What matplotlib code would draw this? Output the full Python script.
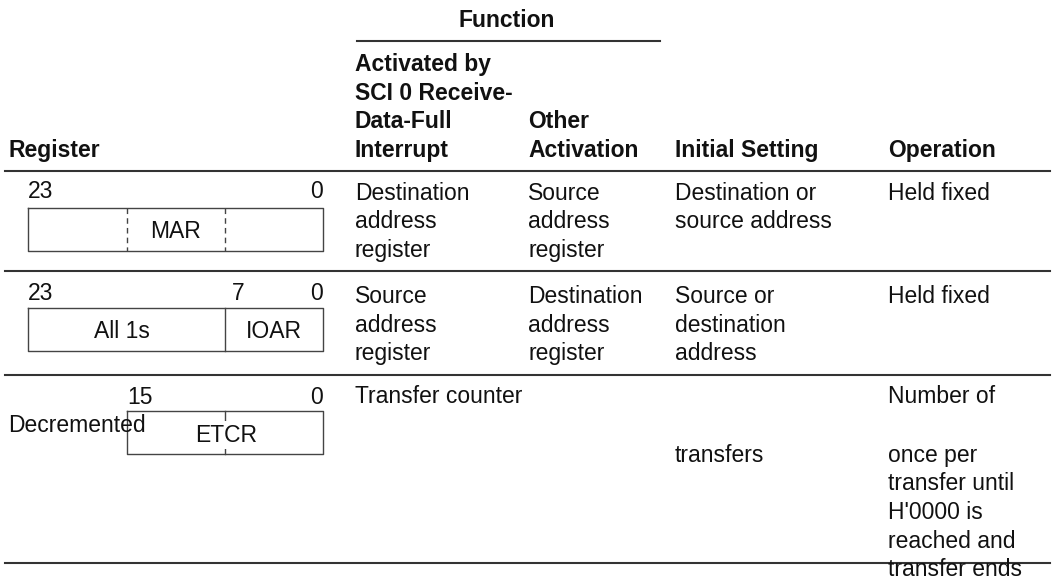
import matplotlib.pyplot as plt

plt.rcParams['font.family'] = ['Liberation Sans', 'DejaVu Sans']

# table content
group_title = 'Function'
headers = [
    ['Register'],
    ['Activated by', 'SCI 0 Receive-', 'Data-Full', 'Interrupt'],
    ['Other', 'Activation'],
    ['Initial Setting'],
    ['Operation'],
]
rows = [
    [['Destination', 'address', 'register'],
     ['Source', 'address', 'register'],
     ['Destination or', 'source address'],
     ['Held fixed']],
    [['Source', 'address', 'register'],
     ['Destination', 'address', 'register'],
     ['Source or', 'destination', 'address'],
     ['Held fixed']],
]
# third row has its text scattered as in the source layout
row3_cells = [
    (355, 403, ['Transfer counter']),
    (888, 403, ['Number of']),
    (675, 462, ['transfers']),
    (888, 462, ['once per', 'transfer until', "H'0000 is", 'reached and', 'transfer ends']),
]

# register names shown inside the boxes
reg_names = ['MAR', ['All 1s', 'IOAR'], 'ETCR']

col_x = [8, 355, 528, 675, 888]
lh = 28.5
fs = 16.5
ink = '#111111'
rule = '#333333'

fig = plt.figure(figsize=(10.53, 5.8), dpi=100)
ax = fig.add_axes([0, 0, 1, 1])
ax.set_xlim(0, 1053)
ax.set_ylim(580, 0)
ax.axis('off')


def lines(x, y, txt, **kw):
    for i, t in enumerate(txt):
        ax.text(x, y + i * lh, t, fontsize=fs, color=ink, va='baseline', **kw)


# header
ax.text(507, 27, group_title, fontsize=fs, fontweight='bold', ha='center',
        va='baseline', color=ink)
ax.plot([357, 660], [40.5, 40.5], color=rule, lw=1.5)
for x, h in zip(col_x, headers):
    base = 157 - (len(h) - 1) * lh
    lines(x, base, h, fontweight='bold')

# rules
ax.plot([5, 1050], [171, 171], color=rule, lw=1.5)
for y in [271, 375, 563]:
    ax.plot([5, 1050], [y, y], color=rule, lw=1.5)

# body text rows 1 and 2
for base, row in zip([200, 303], rows):
    for x, cell in zip(col_x[1:], row):
        lines(x, base, cell)
for x, y, cell in row3_cells:
    lines(x, y, cell)

# register boxes
box_kw = dict(color='#444444', lw=1.0)
L, M, R = 28, 225, 323

# MAR
ax.text(L, 198, '23', fontsize=fs, color=ink, va='baseline')
ax.text(R, 198, '0', fontsize=fs, color=ink, va='baseline', ha='right')
ax.plot([L, R, R, L, L], [208, 208, 251, 251, 208], **box_kw)
for xd in [127, M]:
    ax.plot([xd, xd], [208, 251], color='#444444', lw=1.0, ls=(0, (4, 3)))
ax.text(176, 231, reg_names[0], fontsize=fs, color=ink, ha='center', va='center')

# IOAR
ax.text(L, 300, '23', fontsize=fs, color=ink, va='baseline')
ax.text(232, 300, '7', fontsize=fs, color=ink, va='baseline')
ax.text(R, 300, '0', fontsize=fs, color=ink, va='baseline', ha='right')
ax.plot([L, R, R, L, L], [308, 308, 351, 351, 308], **box_kw)
ax.plot([M, M], [308, 351], **box_kw)
ax.text(122, 331, reg_names[1][0], fontsize=fs, color=ink, ha='center', va='center')
ax.text(274, 331, reg_names[1][1], fontsize=fs, color=ink, ha='center', va='center')

# ETCR
ax.text(127, 404, '15', fontsize=fs, color=ink, va='baseline')
ax.text(R, 404, '0', fontsize=fs, color=ink, va='baseline', ha='right')
ax.plot([127, R, R, 127, 127], [411, 411, 454, 454, 411], **box_kw)
ax.plot([M, M], [411, 454], **box_kw)
ax.text(226, 435, reg_names[2], fontsize=fs, color=ink, ha='center', va='center',
        bbox=dict(facecolor='white', edgecolor='none', pad=1.5))
ax.text(8, 432, 'Decremented', fontsize=fs, color=ink, va='baseline')

fig.savefig('out.png', dpi=100)
